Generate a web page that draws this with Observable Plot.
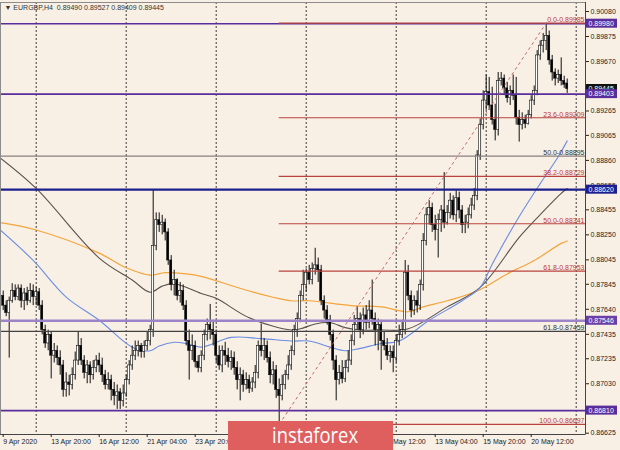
<!DOCTYPE html>
<html><head><meta charset="utf-8">
<script src="https://cdn.jsdelivr.net/npm/d3@7"></script>
<script src="https://cdn.jsdelivr.net/npm/@observablehq/plot@0.6"></script>
<style>
html,body{margin:0;padding:0;background:#f9f0e5;}
#chart{width:620px;height:450px;overflow:hidden;position:relative;}
</style></head><body><div id="chart"></div>
<script>
// ---- data (H4 bars, index 0 = 9 Apr 2020 00:00) ----
const symbol = "EURGBP,H4";
const opens = [0.8771,0.8775,0.8767,0.8761,0.8771,0.8779,0.8774,0.8781,0.8771,0.8777,
0.8771,0.8779,0.8774,0.8778,0.8767,0.8747,0.8736,0.8743,0.8726,0.8730,
0.8724,0.8718,0.8698,0.8704,0.8702,0.8710,0.8722,0.8734,0.8722,0.8712,
0.8718,0.8710,0.8716,0.8722,0.8718,0.8710,0.8702,0.8706,0.8698,0.8693,
0.8696,0.8689,0.8695,0.8706,0.8718,0.8726,0.8730,0.8734,0.8729,0.8734,
0.8738,0.8747,0.8816,0.8837,0.8833,0.8835,0.8827,0.8804,0.8784,0.8788,
0.8775,0.8779,0.8767,0.8738,0.8730,0.8734,0.8721,0.8716,0.8726,0.8743,
0.8751,0.8747,0.8743,0.8726,0.8718,0.8730,0.8726,0.8721,0.8724,0.8716,
0.8706,0.8710,0.8702,0.8706,0.8699,0.8704,0.8712,0.8734,0.8730,0.8734,
0.8724,0.8710,0.8714,0.8698,0.8693,0.8702,0.8710,0.8718,0.8730,0.8747,
0.8756,0.8775,0.8784,0.8794,0.8788,0.8797,0.8800,0.8796,0.8771,0.8763,
0.8755,0.8743,0.8722,0.8706,0.8712,0.8707,0.8716,0.8722,0.8738,0.8751,
0.8756,0.8747,0.8759,0.8753,0.8763,0.8756,0.8747,0.8751,0.8738,0.8734,
0.8726,0.8729,0.8724,0.8738,0.8743,0.8747,0.8794,0.8775,0.8763,0.8771,
0.8767,0.8784,0.8820,0.8841,0.8847,0.8833,0.8829,0.8837,0.8845,0.8835,
0.8843,0.8853,0.8841,0.8855,0.8845,0.8833,0.8835,0.8841,0.8849,0.8857,
0.8890,0.8915,0.8935,0.8942,0.8931,0.8919,0.8911,0.8951,0.8953,0.8945,
0.8937,0.8943,0.8939,0.8921,0.8915,0.8919,0.8916,0.8923,0.8935,0.8943,
0.8972,0.8980,0.8984,0.8988,0.8968,0.8958,0.8953,0.8956,0.8951,0.89490];
const highs = [0.8779,0.8779,0.8771,0.8774,0.8785,0.8784,0.8784,0.8784,0.8781,0.8782,
0.8785,0.8784,0.8782,0.8781,0.8771,0.8751,0.8747,0.8745,0.8736,0.8734,
0.8730,0.8722,0.8712,0.8710,0.8716,0.8729,0.8745,0.8740,0.8726,0.8722,
0.8721,0.8722,0.8726,0.8728,0.8724,0.8714,0.8712,0.8710,0.8704,0.8702,
0.8699,0.8702,0.8710,0.8722,0.8734,0.8738,0.8738,0.8736,0.8738,0.8745,
0.8751,0.8862,0.8843,0.8843,0.8841,0.8838,0.8830,0.8808,0.8796,0.8789,
0.8786,0.8784,0.8771,0.8747,0.8743,0.8738,0.8726,0.8730,0.8747,0.8756,
0.8768,0.8755,0.8747,0.8734,0.8734,0.8737,0.8732,0.8730,0.8729,0.8721,
0.8716,0.8714,0.8712,0.8710,0.8708,0.8718,0.8738,0.8752,0.8740,0.8738,
0.8729,0.8721,0.8718,0.8707,0.8710,0.8714,0.8726,0.8734,0.8751,0.8761,
0.8779,0.8796,0.8797,0.8800,0.8802,0.8814,0.8806,0.8800,0.8775,0.8767,
0.8759,0.8747,0.8726,0.8718,0.8722,0.8722,0.8730,0.8743,0.8759,0.8766,
0.8761,0.8765,0.8767,0.8771,0.8788,0.8761,0.8756,0.8755,0.8745,0.8740,
0.8734,0.8734,0.8743,0.8751,0.8755,0.8804,0.8800,0.8779,0.8775,0.8779,
0.8788,0.8826,0.8847,0.8853,0.8851,0.8841,0.8842,0.8849,0.8876,0.8849,
0.8859,0.8857,0.8861,0.8860,0.8849,0.8841,0.8847,0.8855,0.8863,0.8894,
0.8920,0.8943,0.8956,0.8954,0.8946,0.8932,0.8958,0.8958,0.8956,0.8950,
0.8947,0.8956,0.8954,0.8927,0.8925,0.8923,0.8927,0.8939,0.8947,0.8976,
0.8984,0.8990,0.89985,0.8992,0.8972,0.8961,0.8960,0.8970,0.8955,0.89527];
const lows = [0.8767,0.8763,0.8758,0.8724,0.8769,0.8771,0.8771,0.8765,0.8763,0.8767,
0.8769,0.8767,0.8767,0.8763,0.8743,0.8732,0.8730,0.8707,0.8720,0.8718,
0.8710,0.8692,0.8692,0.8693,0.8698,0.8706,0.8718,0.8718,0.8707,0.8703,
0.8703,0.8706,0.8712,0.8712,0.8704,0.8698,0.8698,0.8689,0.8685,0.8682,
0.8682,0.8684,0.8692,0.8702,0.8714,0.8722,0.8725,0.8724,0.8724,0.8730,
0.8734,0.8741,0.8812,0.8827,0.8825,0.8820,0.8800,0.8779,0.8775,0.8771,
0.8769,0.8763,0.8734,0.8706,0.8722,0.8716,0.8712,0.8712,0.8722,0.8738,
0.8739,0.8734,0.8720,0.8714,0.8712,0.8718,0.8716,0.8714,0.8710,0.8698,
0.8689,0.8696,0.8698,0.8695,0.8696,0.8699,0.8707,0.8725,0.8722,0.8720,
0.8703,0.8702,0.8691,0.86697,0.8689,0.8698,0.8706,0.8714,0.8726,0.8741,
0.8753,0.8771,0.8778,0.8784,0.8784,0.8792,0.8786,0.8767,0.8756,0.8751,
0.8738,0.8714,0.8689,0.8702,0.8703,0.8704,0.8712,0.8718,0.8734,0.8747,
0.8740,0.8743,0.8747,0.8748,0.8751,0.8734,0.8730,0.8714,0.8730,0.8722,
0.8720,0.8712,0.8720,0.8734,0.8740,0.8743,0.8771,0.8757,0.8759,0.8761,
0.8763,0.8779,0.8816,0.8833,0.8827,0.8820,0.8806,0.8827,0.8830,0.8833,
0.8838,0.8837,0.8835,0.8838,0.8826,0.8826,0.8830,0.8838,0.8845,0.8853,
0.8886,0.8911,0.8927,0.8927,0.8915,0.8902,0.8906,0.8947,0.8939,0.8933,
0.8931,0.8935,0.8915,0.8901,0.8911,0.8912,0.8915,0.8920,0.8931,0.8939,
0.8968,0.8974,0.8976,0.8964,0.8951,0.8947,0.8949,0.8947,0.8945,0.89409];
const closes = [0.8775,0.8767,0.8761,0.8771,0.8779,0.8774,0.8781,0.8771,0.8777,0.8771,
0.8779,0.8774,0.8778,0.8767,0.8747,0.8736,0.8743,0.8726,0.8730,0.8724,
0.8718,0.8698,0.8704,0.8702,0.8710,0.8722,0.8734,0.8722,0.8712,0.8718,
0.8710,0.8716,0.8722,0.8718,0.8710,0.8702,0.8706,0.8698,0.8693,0.8696,
0.8689,0.8695,0.8706,0.8718,0.8726,0.8730,0.8734,0.8729,0.8734,0.8738,
0.8747,0.8816,0.8837,0.8833,0.8835,0.8827,0.8804,0.8784,0.8788,0.8775,
0.8779,0.8767,0.8738,0.8730,0.8734,0.8721,0.8716,0.8726,0.8743,0.8751,
0.8747,0.8743,0.8726,0.8718,0.8730,0.8726,0.8721,0.8724,0.8716,0.8706,
0.8710,0.8702,0.8706,0.8699,0.8704,0.8712,0.8734,0.8730,0.8734,0.8724,
0.8710,0.8714,0.8698,0.8693,0.8702,0.8710,0.8718,0.8730,0.8747,0.8756,
0.8775,0.8784,0.8794,0.8788,0.8797,0.8800,0.8796,0.8771,0.8763,0.8755,
0.8743,0.8722,0.8706,0.8712,0.8707,0.8716,0.8722,0.8738,0.8751,0.8756,
0.8747,0.8759,0.8753,0.8763,0.8756,0.8747,0.8751,0.8738,0.8734,0.8726,
0.8729,0.8724,0.8738,0.8743,0.8747,0.8794,0.8775,0.8763,0.8771,0.8767,
0.8784,0.8820,0.8841,0.8847,0.8833,0.8829,0.8837,0.8845,0.8835,0.8843,
0.8853,0.8841,0.8855,0.8845,0.8833,0.8835,0.8841,0.8849,0.8857,0.8890,
0.8915,0.8935,0.8942,0.8931,0.8919,0.8911,0.8951,0.8953,0.8945,0.8937,
0.8943,0.8939,0.8921,0.8915,0.8919,0.8916,0.8923,0.8935,0.8943,0.8972,
0.8980,0.8984,0.8988,0.8968,0.8958,0.8953,0.8956,0.8951,0.8948,0.89445];

// moving averages (bar index, price)
const maBlueBars = [0,11,22,33,44,50,53,58,62,67,77,87,97,103,110,115,120,127,133,143,154,160,164,173,180,186,189];
const maBlue     = [0.8829,0.8804,0.8774,0.8755,0.8733,0.8730,0.8734,0.8737,0.8736,0.8733,0.8741,0.8740,0.8738,0.8738,0.8733,0.8730,0.8732,0.8736,0.8738,0.8755,0.8771,0.8782,0.8801,0.8840,0.8867,0.8889,0.8902];
const maGrayBars = [0,12,33,44,50,54,58,67,72,83,97,100,105,110,115,120,127,136,149,160,173,179,187,189];
const maGray     = [0.8888,0.8863,0.8806,0.8788,0.8778,0.8783,0.8785,0.8777,0.8773,0.8757,0.8747,0.8748,0.8752,0.8753,0.8749,0.8747,0.8747,0.8748,0.8766,0.8782,0.8823,0.8839,0.8859,0.8863];
const maOrangeBars = [0,12,33,42,50,55,62,67,83,97,103,117,127,136,141,149,159,169,178,187,189];
const maOrange     = [0.8835,0.8829,0.8810,0.8798,0.8792,0.8794,0.8793,0.8791,0.8779,0.8771,0.8771,0.8767,0.8766,0.8762,0.8766,0.8771,0.8779,0.8793,0.8804,0.8818,0.8820];

// horizontal levels
const purpleLevels = [0.89980, 0.89403, 0.86810];
const navyLevels = [0.88620];
const lavenderLevels = [0.87546];
const grayFibLevels = [0.88895, 0.87459];
const grayFibLabels = ["50.0-0.88895", "61.8-0.87459"];
const fibLevels = [0.89985, 0.89209, 0.88729, 0.88341, 0.87953, 0.86697];
const fibLabels = ["0.0-0.89985","23.6-0.89209","38.2-0.88729","50.0-0.88341","61.8-0.87953","100.0-0.86697"];
const fibAnchorBars = [93, 182];
const fibAnchorPrices = [0.86697, 0.89985];

// axes
const xTickBars = [1,17,33,49,65,81,97,113,129,145,161,177];
const xTickLabels = ["9 Apr 2020","13 Apr 20:00","16 Apr 12:00","21 Apr 04:00","23 Apr 20:00","28 Apr 12:00","1 May 04:00","5 May 20:00","8 May 12:00","13 May 04:00","15 May 20:00","20 May 12:00"];
const labelsUnderBanner = ["28 Apr 12:00","1 May 04:00","5 May 20:00"];
const weekStartBars = [12,42,72,102,132,162,192];
const yTicks = [0.90080,0.89875,0.89670,0.89265,0.89065,0.88860,0.88655,0.88455,0.88250,0.88045,0.87845,0.87640,0.87435,0.87235,0.87030,0.86625];

// ---- build ----
const bars = closes.map((c, i) => ({i, o: opens[i], h: highs[i], l: lows[i], c}));
const last = bars[bars.length - 1];
const f5 = d => d.toFixed(5);
const title = `\u25BC ${symbol}  ${f5(last.o)} ${f5(last.h)} ${f5(last.l)} ${f5(last.c)}`;
const pts = (bx, vals) => bx.map((b, k) => ({b, v: vals[k]}));
const labelOf = new Map(xTickBars.map((b, k) => [b, labelsUnderBanner.includes(xTickLabels[k]) ? "" : xTickLabels[k]]));
const fibRows = fibLevels.map((v, k) => ({v, label: fibLabels[k]}));
const grayRows = grayFibLevels.map((v, k) => ({v, label: grayFibLabels[k]}));

const xDomain = [0.1, 195.1];
const yDomain = [0.866143, 0.901537];
const RED = "#b8433f";
const FONT = "'Liberation Sans', Arial, sans-serif";

const plot = Plot.plot({
  width: 620, height: 450,
  marginLeft: 0, marginRight: 35, marginTop: 2, marginBottom: 16,
  style: {background: "#f9f0e5", fontFamily: FONT, fontSize: "7px", color: "#222", overflow: "visible"},
  x: {type: "linear", domain: xDomain},
  y: {type: "linear", domain: yDomain},
  marks: [
    Plot.ruleX(weekStartBars, {stroke: "#3c3c3c", strokeDasharray: "2,2", strokeWidth: 1}),
    Plot.line(pts(maOrangeBars, maOrange), {x: "b", y: "v", stroke: "#f3a43c", strokeWidth: 1.2, curve: "catmull-rom", clip: true}),
    Plot.line(pts(maGrayBars, maGray), {x: "b", y: "v", stroke: "#5a524e", strokeWidth: 1.1, curve: "catmull-rom", clip: true}),
    Plot.line(pts(maBlueBars, maBlue), {x: "b", y: "v", stroke: "#6a8de4", strokeWidth: 1.1, curve: "catmull-rom", clip: true}),
    Plot.ruleX(bars, {x: "i", y1: "l", y2: "h", stroke: "#111", strokeWidth: 1, clip: true}),
    Plot.rect(bars, {x1: d => d.i - 0.34, x2: d => d.i + 0.34, y1: "o", y2: "c",
      fill: d => d.c >= d.o ? "#ffffff" : "#000000", stroke: "#111", strokeWidth: 0.6, clip: true}),
    Plot.ruleY(grayFibLevels, {stroke: "#8a8080", strokeWidth: 1.3}),
    Plot.ruleY(purpleLevels, {stroke: "#5a2d9c", strokeWidth: 1.6}),
    Plot.ruleY(navyLevels, {stroke: "#1c1f8e", strokeWidth: 2.2}),
    Plot.ruleY(lavenderLevels, {stroke: "#9d84c8", strokeWidth: 2.6}),
    Plot.ruleY([grayFibLevels[1]], {stroke: "#3a3a3a", strokeWidth: 1}),
    Plot.ruleY(fibLevels, {y: d => d, x1: fibAnchorBars[0], x2: xDomain[1], stroke: RED, strokeWidth: 1.1}),
    Plot.link([0], {x1: () => fibAnchorBars[0], y1: () => fibAnchorPrices[0], x2: () => fibAnchorBars[1], y2: () => fibAnchorPrices[1],
      stroke: "#c46a6a", strokeWidth: 1, strokeDasharray: "3,3"}),
    Plot.text(fibRows, {y: "v", text: "label", frameAnchor: "right", textAnchor: "end", lineAnchor: "bottom", dx: -1, dy: -1, fill: "#c0392b", fontSize: 7}),
    Plot.text(grayRows, {y: "v", text: "label", frameAnchor: "right", textAnchor: "end", lineAnchor: "bottom", dx: -1, dy: -1, fill: "#333", fontSize: 7}),
    Plot.text([title], {frameAnchor: "top-left", dx: 4, dy: 3, fill: "#333", fontSize: 7}),
    Plot.frame({stroke: "#8c8c8c"}),
    Plot.ruleX([xDomain[1]], {stroke: "#444", strokeWidth: 1}),
    Plot.ruleY([yDomain[0]], {stroke: "#444", strokeWidth: 1}),
    Plot.axisY(yTicks, {anchor: "right", tickSize: 3, tickPadding: 2, tickFormat: f5, fontSize: 7}),
    Plot.axisX(xTickBars, {anchor: "bottom", tickSize: 3, tickPadding: 1.5, tickFormat: d => labelOf.get(d), textAnchor: "start", fontSize: 7})
  ]
});

document.getElementById("chart").appendChild(plot);

// price tags on the right axis, placed through the plot's y scale
const ys = plot.scale("y");
const svg = d3.select(plot);
const axisX0 = 620 - 35 + 1;
const tags = [
  {v: last.c, fill: "#111"},
  {v: purpleLevels[1], fill: "#5a2d9c"},
  {v: purpleLevels[0], fill: "#5a2d9c"},
  {v: navyLevels[0], fill: "#1c1f8e"},
  {v: lavenderLevels[0], fill: "#6a3fa8"},
  {v: purpleLevels[2], fill: "#5a2d9c"}
];
const g = svg.append("g").attr("text-anchor", "start");
for (const t of tags) {
  const yy = ys.apply(t.v);
  g.append("rect").attr("x", axisX0).attr("y", yy - 4.5).attr("width", 31).attr("height", 9).attr("fill", t.fill);
  g.append("text").attr("x", axisX0 + 2.5).attr("y", yy + 2.6).attr("fill", "#fff").attr("text-anchor", "start")
    .attr("font-size", 7).attr("font-family", FONT).text(f5(t.v));
}

// watermark banner
const banner = svg.append("g");
banner.append("rect").attr("x", 228).attr("y", 421).attr("width", 165).attr("height", 30).attr("fill", "#df5f5f");
banner.append("text").attr("x", 315).attr("y", 443).attr("text-anchor", "middle").attr("fill", "#fff")
  .attr("font-size", 22).attr("font-family", "'Open Sans', 'Noto Sans', sans-serif")
  .attr("textLength", 86).attr("lengthAdjust", "spacingAndGlyphs").text("instaforex");
</script>
</body></html>
